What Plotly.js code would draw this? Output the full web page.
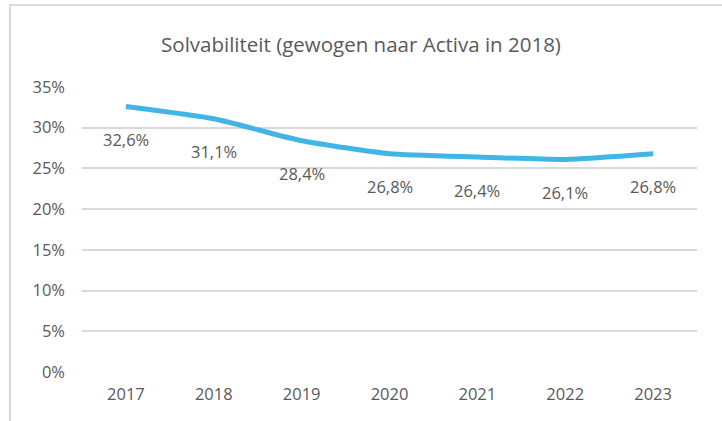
<!DOCTYPE html>
<html>
<head>
<meta charset="utf-8">
<script src="https://cdn.plot.ly/plotly-3.0.1.min.js"></script>
<style>
  html, body { margin: 0; padding: 0; background: #fff; }
  #frame { position: absolute; left: 0; top: 0; width: 722px; height: 421px; }
  #border { position: absolute; left: 9px; top: 4px; width: 713px; height: 417px;
            border-left: 2px solid #d9d9d9; border-top: 2px solid #d9d9d9; pointer-events: none; }
  #chart { position: absolute; left: 0; top: 0; width: 722px; height: 421px; }
</style>
</head>
<body>
<div id="frame">
  <div id="chart"></div>
  <div id="border"></div>
</div>
<script>
const years = ['2017', '2018', '2019', '2020', '2021', '2022', '2023'];
const solvency = [32.6, 31.1, 28.4, 26.8, 26.4, 26.1, 26.8];
const labels = ['32,6%', '31,1%', '28,4%', '26,8%', '26,4%', '26,1%', '26,8%'];
const yTicks = [0, 5, 10, 15, 20, 25, 30, 35];
const yTickText = ['0%', '5%', '10%', '15%', '20%', '25%', '30%', '35%'];
const titleText = 'Solvabiliteit (gewogen naar Activa in 2018)';

const font = "'Open Sans', 'Noto Sans', sans-serif";
const grey = '#595959';

const trace = {
  x: years,
  y: solvency,
  type: 'scatter',
  mode: 'lines',
  line: { color: '#41b6e6', width: 5, shape: 'spline', smoothing: 0.5 },
  hoverinfo: 'skip'
};

const annotations = years.map((yr, i) => ({
  x: i, y: solvency[i], xref: 'x', yref: 'y',
  text: labels[i], showarrow: false,
  yanchor: 'middle', xanchor: 'center', yshift: -33,
  font: { family: font, size: 16.5, color: grey }
}));

const layout = {
  width: 722, height: 421,
  margin: { l: 82, r: 25, t: 87, b: 49 },
  paper_bgcolor: '#ffffff', plot_bgcolor: '#ffffff',
  showlegend: false,
  title: {
    text: titleText,
    font: { family: font, size: 20.5, color: grey },
    x: 0.5, xanchor: 'center', y: 0.893, yanchor: 'middle'
  },
  xaxis: {
    type: 'category',
    range: [-0.5, 6.5],
    showgrid: false, zeroline: false, showline: false,
    ticks: '',
    tickfont: { family: font, size: 16.5, color: grey },
    ticklabelstandoff: 10,
    fixedrange: true
  },
  yaxis: {
    range: [0, 35],
    tickvals: yTicks, ticktext: yTickText,
    showgrid: true, gridcolor: '#d9d9d9', gridwidth: 2,
    zeroline: false, showline: false, ticks: '',
    tickfont: { family: font, size: 16.5, color: grey },
    ticklabelstandoff: 16,
    fixedrange: true
  },
  annotations: annotations
};

Plotly.newPlot('chart', [trace], layout, { displayModeBar: false, staticPlot: true });
</script>
</body>
</html>
